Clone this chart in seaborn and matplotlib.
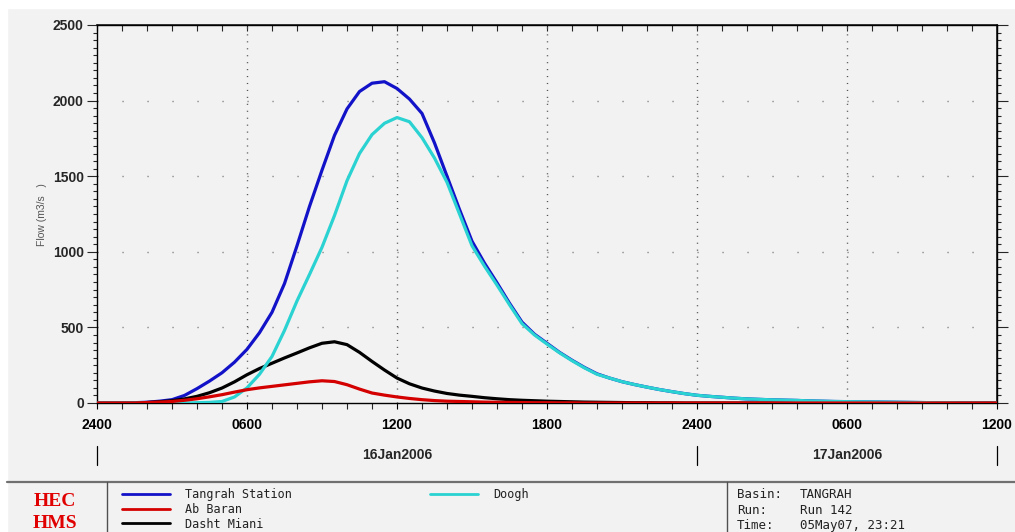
import numpy as np
import pandas as pd
import matplotlib
matplotlib.use("Agg")
import matplotlib.pyplot as plt
import matplotlib.transforms as mtransforms
from matplotlib.lines import Line2D
from matplotlib.patches import Rectangle
from matplotlib.ticker import MultipleLocator
import seaborn as sns

# half-hourly flows (m3/s), hour 0 = 2400 15Jan2006
hours = list(np.arange(0, 36.5, 0.5))
tangrah = [0, 0, 0, 2, 5, 12, 22, 50, 95, 145,          # 0 - 4.5
           200, 270, 355, 465, 600, 790, 1040, 1300, 1540, 1770,   # 5 - 9.5
           1945, 2060, 2115, 2125, 2080, 2010, 1915, 1720, 1500, 1280,  # 10 - 14.5
           1070, 925, 795, 660, 535, 455, 395, 335, 283, 235,    # 15 - 19.5
           193, 165, 141, 122, 105, 89, 75, 62, 51, 44,          # 20 - 24.5
           38, 32, 27, 24, 21, 19, 17, 14, 12, 10,               # 25 - 29.5
           9, 8, 7, 6, 5, 4, 3, 2, 2, 1,                          # 30 - 34.5
           1, 0, 0]                                               # 35 - 36
ab_baran = [0, 0, 0, 0, 3, 6, 10, 18, 28, 41,
            55, 72, 88, 100, 110, 120, 130, 140, 147, 142,
            121, 92, 66, 52, 40, 30, 22, 16, 12, 10,
            8, 6, 5, 4, 3, 2, 2, 1, 1, 0,
            0, 0, 0, 0, 0, 0, 0, 0, 0, 0,
            0, 0, 0, 0, 0, 0, 0, 0, 0, 0,
            0, 0, 0, 0, 0, 0, 0, 0, 0, 0,
            0, 0, 0]
dasht_miani = [0, 0, 0, 0, 3, 8, 15, 27, 44, 68,
               99, 140, 187, 228, 263, 298, 331, 365, 395, 405,
               386, 335, 275, 218, 165, 127, 99, 79, 63, 52,
               44, 35, 28, 22, 18, 15, 12, 10, 8, 6,
               5, 4, 3, 2, 2, 1, 1, 0, 0, 0,
               0, 0, 0, 0, 0, 0, 0, 0, 0, 0,
               0, 0, 0, 0, 0, 0, 0, 0, 0, 0,
               0, 0, 0]
doogh = [0, 0, 0, 0, 0, 0, 0, 0, 2, 4,
         10, 40, 100, 190, 308, 480, 675, 850, 1030, 1240,
         1470, 1650, 1775, 1850, 1888, 1860, 1755, 1620, 1460, 1250,
         1040, 905, 780, 650, 525, 450, 390, 332, 280, 232,
         190, 165, 141, 122, 105, 89, 75, 62, 51, 44,
         38, 32, 27, 24, 21, 19, 17, 14, 12, 10,
         9, 8, 7, 6, 5, 4, 3, 2, 2, 1,
         1, 0, 0]

series_names = ["Tangrah Station", "Ab Baran", "Dasht Miani", "Doogh"]
colors = {"Tangrah Station": "#1212c8", "Ab Baran": "#d40000",
          "Dasht Miani": "#000000", "Doogh": "#2ad2d2"}
tick_labels = ["2400", "0600", "1200", "1800", "2400", "0600", "1200"]
dates = ["16Jan2006", "17Jan2006"]
date_centers = [12, 30]
date_bounds = [0, 24, 36]
info_keys = ["Basin:", "Run:", "Time:"]
info_vals = ["TANGRAH", "Run 142", "05May07, 23:21"]

df = pd.DataFrame({
    "hour": hours * 4,
    "flow": tangrah + ab_baran + dasht_miani + doogh,
    "element": np.repeat(series_names, len(hours)),
})

sns.set_theme(style="ticks")
plt.rcParams["font.family"] = ["Liberation Sans", "DejaVu Sans"]
plt.rcParams["lines.scale_dashes"] = False

W, H = 1015, 532
bg = "#f2f2f2"
fig = plt.figure(figsize=(W / 100, H / 100), dpi=100, facecolor=bg)
# white margins at left and top
fig.patches.append(Rectangle((0, 0), 7 / W, 1, transform=fig.transFigure, color="white", zorder=0))
fig.patches.append(Rectangle((0, 1 - 8 / H), 1, 8 / H, transform=fig.transFigure, color="white", zorder=0))

ax = fig.add_axes([97 / W, 1 - 403 / H, 900 / W, 378 / H])
ax.set_facecolor(bg)

# grid: sparse dots on the flow levels, dense dots on the 6-hour marks
for lvl in [500, 1000, 1500, 2000]:
    ax.axhline(lvl, color="#707070", lw=1.0, ls=(0, (0.8, 17.2)), zorder=1)
for hr in [6, 12, 18, 24, 30]:
    ax.axvline(hr, color="#555555", lw=1.0, ls=(0, (0.8, 4.2)), zorder=1)

draw_order = ["Tangrah Station", "Dasht Miani", "Doogh", "Ab Baran"]
sns.lineplot(data=df, x="hour", y="flow", hue="element", hue_order=draw_order,
             palette=colors, linewidth=2.3, estimator=None, legend=False, ax=ax, zorder=3)

ax.set_xlim(0, 36)
ax.set_ylim(0, 2500)
ax.set_xlabel("")
ax.set_ylabel("")
ax.set_xticks(range(0, 37, 6))
ax.set_xticklabels(tick_labels)
ax.xaxis.set_minor_locator(MultipleLocator(1))
ax.yaxis.set_major_locator(MultipleLocator(500))
ax.yaxis.set_minor_locator(MultipleLocator(50))
ax.tick_params(axis="x", which="major", direction="out", length=4, width=0.8, pad=7, labelsize=10, colors="black")
ax.tick_params(axis="x", which="minor", direction="out", length=4, width=0.8)
ax.tick_params(axis="y", which="major", direction="out", length=7.5, width=0.8, pad=2, labelsize=10)
ax.tick_params(axis="y", which="minor", direction="out", length=3, width=0.8)
for lab in ax.get_xticklabels() + ax.get_yticklabels():
    lab.set_fontweight("bold")
for sp in ax.spines.values():
    sp.set_visible(True)
    sp.set_color("black")
    sp.set_linewidth(1.0)

top = ax.secondary_xaxis("top")
top.set_xticks(range(37))
top.set_xticklabels([])
top.tick_params(direction="in", length=4, width=0.8)
right = ax.secondary_yaxis("right")
right.yaxis.set_major_locator(MultipleLocator(500))
right.yaxis.set_minor_locator(MultipleLocator(50))
right.set_yticklabels([])
right.tick_params(which="major", direction="out", length=8, width=0.8)
right.tick_params(which="minor", direction="out", length=3, width=0.8)

# date row under the hour labels
trans = mtransforms.blended_transform_factory(ax.transData, fig.transFigure)
for x0 in date_bounds:
    ax.plot([x0, x0], [1 - 446 / H, 1 - 465 / H], transform=trans, color="black", lw=0.9, clip_on=False)
for xc, d in zip(date_centers, dates):
    ax.text(xc, 1 - 455 / H, d, transform=trans, ha="center", va="center", fontsize=10, fontweight="bold")

fig.text(42 / W, 1 - 215 / H, "Flow (m3/s   )", rotation=90, ha="center", va="center", fontsize=7.5, color="#555555")

# bottom info panel
fig.add_artist(Line2D([7 / W, 1], [1 - 482 / H] * 2, transform=fig.transFigure, color="#707070", lw=1.6))
for xs in [107, 727]:
    fig.add_artist(Line2D([xs / W] * 2, [1 - 482 / H, 0], transform=fig.transFigure, color="#505050", lw=1.0))

fig.text(55 / W, 1 - 501 / H, "HEC", color="#e00000", fontsize=14, fontweight="bold", family="Liberation Serif", ha="center", va="center")
fig.text(55 / W, 1 - 523 / H, "HMS", color="#e00000", fontsize=14, fontweight="bold", family="Liberation Serif", ha="center", va="center")

mono = {"family": "DejaVu Sans Mono", "size": 8.5}
h1 = [Line2D([], [], color=colors[n], lw=2) for n in series_names[:3]]
leg1 = fig.legend(h1, series_names[:3], loc="upper left", bbox_to_anchor=(122 / W, 1 - 488 / H),
                  frameon=False, prop=mono, handlelength=4.07, handletextpad=1.27,
                  labelspacing=0.15, borderpad=0, borderaxespad=0)
h2 = [Line2D([], [], color=colors["Doogh"], lw=2)]
leg2 = fig.legend(h2, ["Doogh"], loc="upper left", bbox_to_anchor=(430 / W, 1 - 488 / H),
                  frameon=False, prop=mono, handlelength=4.07, handletextpad=1.27,
                  borderpad=0, borderaxespad=0)
for t in leg1.get_texts() + leg2.get_texts():
    t.set_color("#222222")

for i, (k, v) in enumerate(zip(info_keys, info_vals)):
    yy = 1 - (495 + 15.3 * i) / H
    fig.text(737 / W, yy, k, ha="left", va="center", family="DejaVu Sans Mono", fontsize=9, color="#222222")
    fig.text(800 / W, yy, v, ha="left", va="center", family="DejaVu Sans Mono", fontsize=9, color="#222222")

fig.savefig("out.png", dpi=100, facecolor=fig.get_facecolor())
